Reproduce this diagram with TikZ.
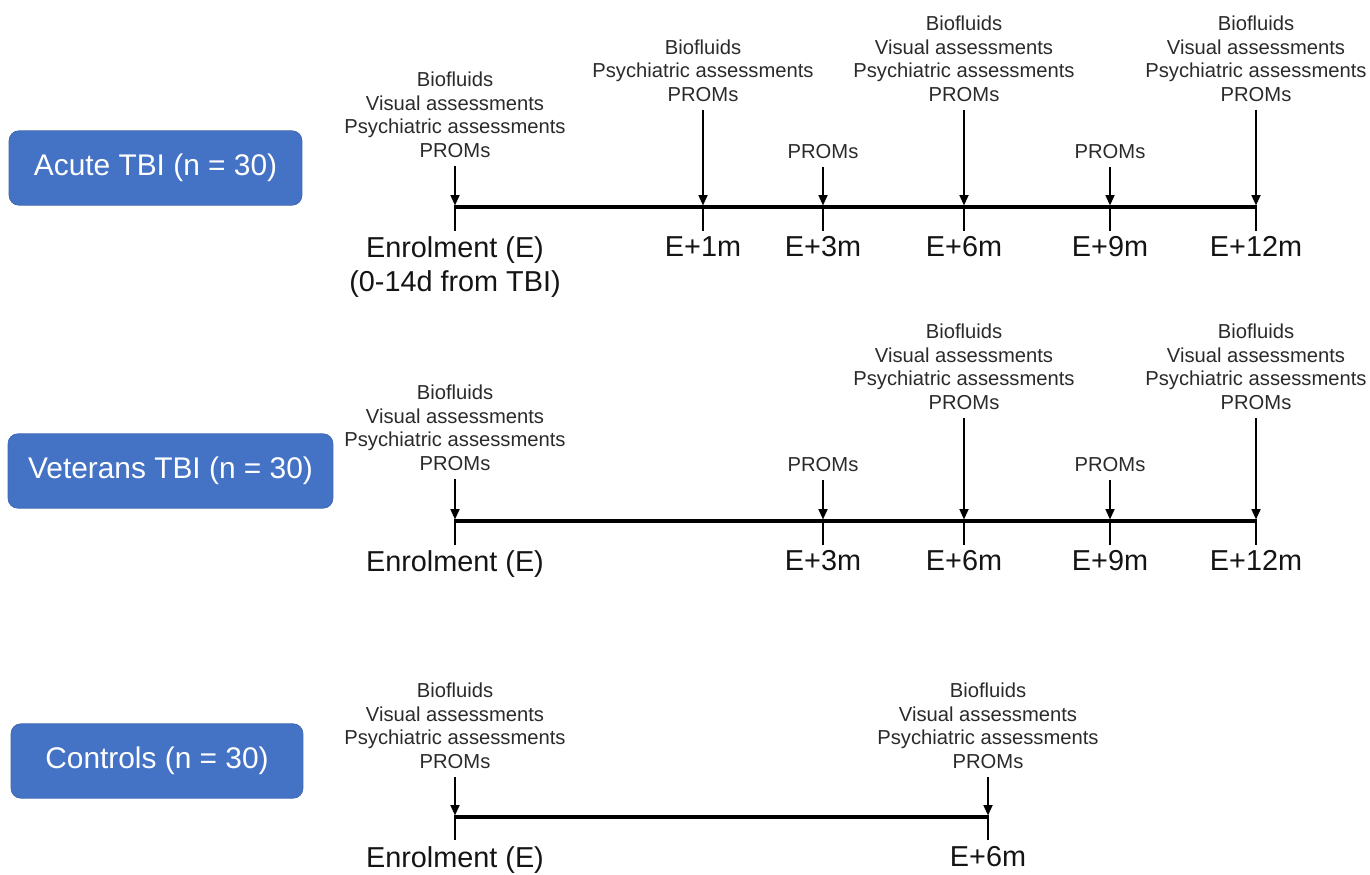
\documentclass[tikz,border=0pt]{standalone}
\usepackage{fontspec}
\setmainfont{Liberation Sans}
\usetikzlibrary{arrows.meta}
\definecolor{boxblue}{HTML}{4472C4}
\definecolor{boxedge}{HTML}{3F66B0}
\definecolor{txt}{HTML}{2A2A2A}
\definecolor{labtxt}{HTML}{141414}
\begin{document}
\begin{tikzpicture}[x=0.02cm,y=-0.02cm,
  grp/.style={fill=boxblue, draw=boxedge, line width=0.4pt, rounded corners=0.2cm, text=white, font=\fontsize{17}{20}\selectfont, minimum height=1.49cm, inner sep=0pt},
  info/.style={font=\fontsize{11.5}{13.4}\selectfont, align=center, text=txt, inner sep=0pt, anchor=south},
  lab/.style={font=\fontsize{16.4}{19.3}\selectfont, align=center, text=labtxt, inner sep=0pt, anchor=north},
  axis/.style={line width=2.1pt},
  tickmark/.style={line width=1.5pt},
  arr/.style={line width=1.3pt, -{Triangle[length=6pt,width=5pt]}, shorten >=0.8pt}]
\useasboundingbox (0,0) rectangle (1370,875);

% ---------- group boxes ----------
\node[grp, minimum width=5.86cm] (g1) at (155.5,168) {Acute TBI (n = 30)};
\node[grp, minimum width=6.50cm] (g2) at (170.5,471) {Veterans TBI (n = 30)};
\node[grp, minimum width=5.84cm] (g3) at (157,761) {Controls (n = 30)};

% ---------- row 1 ----------
\coordinate (r1e) at (455,207);
\coordinate (r1m1) at (703,207);
\coordinate (r1m3) at (823,207);
\coordinate (r1m6) at (964,207);
\coordinate (r1m9) at (1110,207);
\coordinate (r1m12) at (1256,207);
\draw[axis] (r1e) -- (r1m12);
\foreach \c in {r1e,r1m1,r1m3,r1m6,r1m9,r1m12}
  \draw[tickmark] (\c) ++(0,-1.8) -- ++(0,25.8);

\node[info] (i1e) at (455,158) {Biofluids\\Visual assessments\\Psychiatric assessments\\PROMs};
\node[info] (i1m1) at (703,102) {Biofluids\\Psychiatric assessments\\PROMs};
\node[info] (i1m3) at (823,159) {PROMs};
\node[info] (i1m6) at (964,102) {Biofluids\\Visual assessments\\Psychiatric assessments\\PROMs};
\node[info] (i1m9) at (1110,159) {PROMs};
\node[info] (i1m12) at (1256,102) {Biofluids\\Visual assessments\\Psychiatric assessments\\PROMs};
\foreach \c in {e,m1,m3,m6,m9,m12}
  \draw[arr] ([yshift=-4.5pt]i1\c.south) -- (r1\c);

\node[lab] (l1e) at (455,236) {Enrolment (E)\\(0-14d from TBI)};
\node[lab] (l1m1) at (703,236) {E+1m};
\node[lab] (l1m3) at (823,236) {E+3m};
\node[lab] (l1m6) at (964,236) {E+6m};
\node[lab] (l1m9) at (1110,236) {E+9m};
\node[lab] (l1m12) at (1256,236) {E+12m};

% ---------- row 2 ----------
\coordinate (r2e) at (455,521);
\coordinate (r2m3) at (823,521);
\coordinate (r2m6) at (964,521);
\coordinate (r2m9) at (1110,521);
\coordinate (r2m12) at (1256,521);
\draw[axis] (r2e) -- (r2m12);
\foreach \c in {r2e,r2m3,r2m6,r2m9,r2m12}
  \draw[tickmark] (\c) ++(0,-1.8) -- ++(0,25.8);

\node[info] (i2e) at (455,471) {Biofluids\\Visual assessments\\Psychiatric assessments\\PROMs};
\node[info] (i2m3) at (823,472) {PROMs};
\node[info] (i2m6) at (964,410) {Biofluids\\Visual assessments\\Psychiatric assessments\\PROMs};
\node[info] (i2m9) at (1110,472) {PROMs};
\node[info] (i2m12) at (1256,410) {Biofluids\\Visual assessments\\Psychiatric assessments\\PROMs};
\foreach \c in {e,m3,m6,m9,m12}
  \draw[arr] ([yshift=-4.5pt]i2\c.south) -- (r2\c);

\node[lab] (l2e) at (455,550) {Enrolment (E)};
\node[lab] (l2m3) at (823,550) {E+3m};
\node[lab] (l2m6) at (964,550) {E+6m};
\node[lab] (l2m9) at (1110,550) {E+9m};
\node[lab] (l2m12) at (1256,550) {E+12m};

% ---------- row 3 ----------
\coordinate (r3e) at (455,817);
\coordinate (r3m6) at (988,817);
\draw[axis] (r3e) -- (r3m6);
\foreach \c in {r3e,r3m6}
  \draw[tickmark] (\c) ++(0,-1.8) -- ++(0,24.8);

\node[info] (i3e) at (455,769) {Biofluids\\Visual assessments\\Psychiatric assessments\\PROMs};
\node[info] (i3m6) at (988,769) {Biofluids\\Visual assessments\\Psychiatric assessments\\PROMs};
\foreach \c in {e,m6}
  \draw[arr] ([yshift=-4.5pt]i3\c.south) -- (r3\c);

\node[lab] (l3e) at (455,846) {Enrolment (E)};
\node[lab] (l3m6) at (988,846) {E+6m};
\end{tikzpicture}
\end{document}
